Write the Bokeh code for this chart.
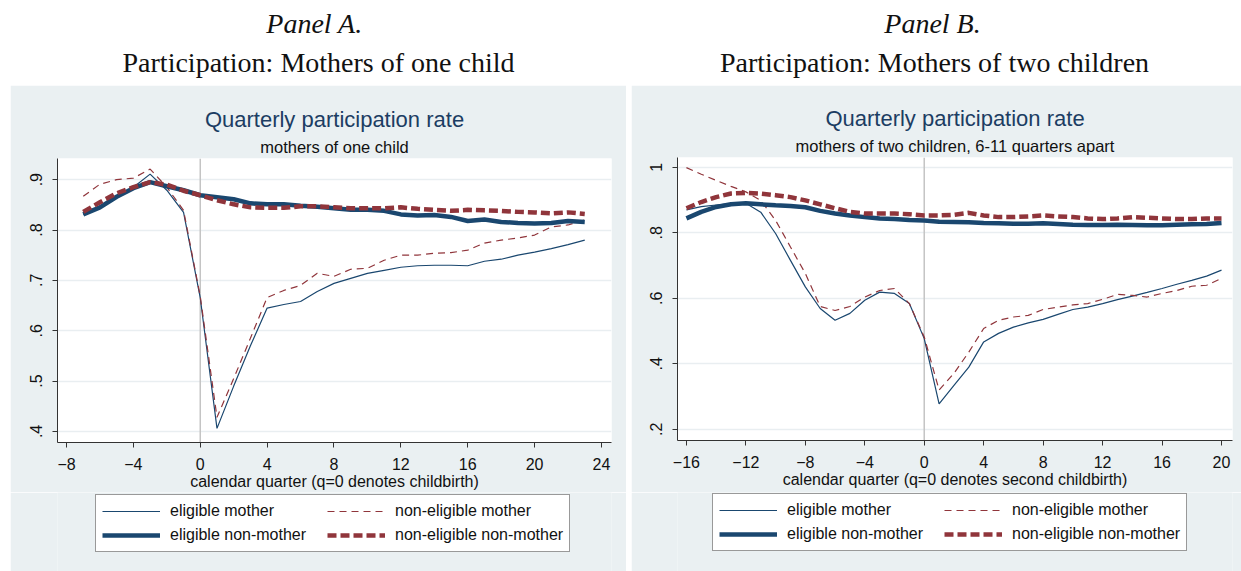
from bokeh.plotting import figure
from bokeh.models import Range1d, FixedTicker, Span, Legend, LegendItem, Title, Spacer
from bokeh.layouts import row, column
from bokeh.core.properties import value
from bokeh.embed import file_html
from bokeh.resources import INLINE

# ---------------- data ----------------
quarters_a = list(range(-7, 24))
a_elig_mother = [.831, .845, .866, .885, .911, .879, .835, .665, .406, .490, .570, .645, .652, .658, .678, .694,
                 .704, .714, .720, .726, .729, .730, .730, .729, .738, .742, .750, .756, .763, .771, .780]
a_nonelig_mother = [.867, .891, .900, .903, .921, .885, .839, .668, .428, .505, .585, .666, .680, .690, .714, .708,
                    .722, .724, .740, .750, .750, .754, .755, .760, .774, .780, .784, .790, .806, .810, .820]
a_elig_nonmother = [.831, .845, .866, .883, .895, .887, .879, .869, .865, .861, .853, .851, .851, .848, .846, .843,
                    .840, .840, .838, .831, .829, .830, .826, .818, .821, .816, .814, .813, .814, .818, .816]
a_nonelig_nonmother = [.836, .855, .873, .885, .895, .890, .878, .869, .859, .851, .845, .844, .844, .847, .847, .845,
                       .843, .843, .843, .845, .842, .840, .838, .840, .839, .838, .836, .835, .833, .835, .832]

quarters_b = list(range(-16, 21))
b_elig_mother = [.870, .880, .885, .889, .890, .863, .798, .716, .635, .569, .533, .554, .594, .619, .615, .584,
                 .477, .278, .334, .390, .467, .493, .512, .525, .536, .551, .566, .573, .584, .596, .607, .618,
                 .630, .643, .655, .668, .686]
b_nonelig_mother = [.999, .979, .960, .942, .925, .899, .838, .757, .676, .575, .563, .575, .604, .624, .630, .584,
                    .482, .320, .371, .436, .508, .533, .543, .548, .566, .573, .580, .584, .597, .612, .609, .604,
                    .615, .624, .637, .640, .661]
b_elig_nonmother = [.844, .864, .879, .887, .890, .887, .884, .882, .878, .867, .859, .853, .848, .844, .842, .839,
                    .838, .834, .833, .832, .830, .829, .828, .828, .829, .827, .825, .824, .824, .825, .824, .823,
                    .823, .825, .826, .827, .830]
b_nonelig_nonmother = [.875, .894, .909, .920, .922, .920, .915, .909, .899, .887, .875, .864, .859, .859, .859, .857,
                       .853, .853, .855, .861, .853, .848, .848, .850, .853, .850, .848, .844, .842, .844, .848, .846,
                       .844, .842, .842, .844, .844]

series_labels = ["eligible mother", "non-eligible mother", "eligible non-mother", "non-eligible non-mother"]

xticks_a = [-8, -4, 0, 4, 8, 12, 16, 20, 24]
yticks_a = [0.4, 0.5, 0.6, 0.7, 0.8, 0.9]
ytick_labels_a = [".4", ".5", ".6", ".7", ".8", ".9"]

xticks_b = [-16, -12, -8, -4, 0, 4, 8, 12, 16, 20]
yticks_b = [0.2, 0.4, 0.6, 0.8, 1.0]
ytick_labels_b = [".2", ".4", ".6", ".8", "1"]

panel_headers = ["Panel A.", "Panel B."]
panel_titles = ["Participation: Mothers of one child", "Participation: Mothers of two children"]
chart_title = "Quarterly participation rate"
subtitles = ["mothers of one child", "mothers of two children, 6-11 quarters apart"]
xlabels = ["calendar quarter (q=0 denotes childbirth)", "calendar quarter (q=0 denotes second childbirth)"]

# ---------------- style ----------------
BG = "#eaf0f2"
NAVY = "#1a476f"
MAROON = "#90353b"
SANS = "Liberation Sans"
SERIF = "Liberation Serif"
STYLES = [dict(line_color=NAVY, line_width=1.2),
          dict(line_color=MAROON, line_width=1.2, line_dash="7 5"),
          dict(line_color=NAVY, line_width=4.5),
          dict(line_color=MAROON, line_width=4.5, line_dash="9 4")]


def make_panel(q, ys, xr, yr, xticks, yticks, ylabels, subtitle, xlabel,
               w, h, bl, br, bt, bb):
    p = figure(width=w, height=h, x_range=Range1d(*xr), y_range=Range1d(*yr),
               output_backend="svg", toolbar_location=None, sizing_mode="fixed",
               min_border_left=bl, min_border_right=br, min_border_top=bt, min_border_bottom=bb)
    p.background_fill_color = "white"
    p.border_fill_color = BG
    p.outline_line_color = None

    p.title.text = chart_title
    p.title.align = "center"
    p.title.text_font = SANS
    p.title.text_font_size = "22px"
    p.title.text_font_style = "normal"
    p.title.text_color = "#1c3d63"
    p.title.standoff = 2
    sub = Title(text=subtitle, align="center", text_font=SANS, text_font_size="16.5px",
                text_font_style="normal", text_color="#111111", standoff=6)
    p.add_layout(sub, "above")

    for ax in (p.xaxis[0], p.yaxis[0]):
        ax.axis_line_color = "#333333"
        ax.major_tick_line_color = "#333333"
        ax.major_tick_out = 5
        ax.major_tick_in = 0
        ax.minor_tick_line_color = None
        ax.major_label_text_font = SANS
        ax.major_label_text_font_size = "16px"
        ax.major_label_text_color = "#111111"
    p.xaxis.ticker = FixedTicker(ticks=xticks)
    p.xaxis.major_label_standoff = 10
    p.xaxis.axis_label = xlabel
    p.xaxis.axis_label_text_font = SANS
    p.xaxis.axis_label_text_font_size = "16px"
    p.xaxis.axis_label_text_font_style = "normal"
    p.xaxis.axis_label_text_color = "#111111"
    p.xaxis.axis_label_standoff = 0
    p.yaxis.ticker = FixedTicker(ticks=yticks)
    p.yaxis.major_label_overrides = {t: l for t, l in zip(yticks, ylabels)}
    p.yaxis.major_label_orientation = "vertical"
    p.yaxis.major_label_standoff = 10

    p.xgrid.visible = False
    p.ygrid.ticker = FixedTicker(ticks=yticks)
    p.ygrid.grid_line_color = "#e9eef1"
    p.ygrid.grid_line_width = 1.5

    p.add_layout(Span(location=0, dimension="height", line_color="#c4c4c4", line_width=1.5, level="underlay"))

    for yv, st in zip(ys, STYLES):
        p.line(q, yv, **st)
    return p


def make_legend_strip(q, ys, w, h, loc):
    # same series drawn into a range that shows none of them: only their legend keys appear
    lf = figure(width=w, height=h, x_range=Range1d(-1000, -999), y_range=Range1d(0, 1),
                output_backend="svg", toolbar_location=None, sizing_mode="fixed",
                min_border=0, min_border_left=0, min_border_right=0, min_border_top=0, min_border_bottom=0,
                x_axis_type=None, y_axis_type=None)
    lf.outline_line_color = None
    lf.grid.visible = False
    lf.background_fill_color = BG
    lf.border_fill_color = BG
    rs = [lf.line(q, yv, **st) for yv, st in zip(ys, STYLES)]
    items = [LegendItem(label=lab, renderers=[r]) for lab, r in zip(series_labels, rs)]
    leg = Legend(items=items, location=loc, orientation="horizontal", ncols=2,
                 border_line_color="#333333", border_line_width=1,
                 background_fill_color="white", background_fill_alpha=1.0,
                 label_text_font=SANS, label_text_font_size="16px", label_text_color="#111111",
                 glyph_width=58, glyph_height=20, label_standoff=10, label_width=153, label_height=20,
                 spacing=4, padding=6, margin=0)
    lf.add_layout(leg, "center")
    return lf


ys_a = [a_elig_mother, a_nonelig_mother, a_elig_nonmother, a_nonelig_nonmother]
ys_b = [b_elig_mother, b_nonelig_mother, b_elig_nonmother, b_nonelig_nonmother]

pA = make_panel(quarters_a, ys_a, (-8.54, 24.6), (0.378, 0.942), xticks_a, yticks_a, ytick_labels_a,
                subtitles[0], xlabels[0], 616, 407, 47, 15, 73, 50)
pB = make_panel(quarters_b, ys_b, (-16.6, 20.74), (0.166, 1.03), xticks_b, yticks_b, ytick_labels_b,
                subtitles[1], xlabels[1], 610, 407, 46, 9, 72, 52)
lA = make_legend_strip(quarters_a, ys_a, 616, 79, (38, 19))
lB = make_legend_strip(quarters_b, ys_b, 610, 79, (35, 20))

# header strip with panel captions
hdr = figure(width=1241, height=85, x_range=Range1d(0, 1241), y_range=Range1d(85, 0),
             output_backend="svg", toolbar_location=None, sizing_mode="fixed",
             min_border=0, min_border_left=0, min_border_right=0, min_border_top=0, min_border_bottom=0,
             x_axis_type=None, y_axis_type=None)
hdr.outline_line_color = None
hdr.grid.visible = False
hdr.background_fill_color = "white"
hdr.border_fill_color = "white"
hdr.text(x=[314, 932], y=[23, 23], text=panel_headers, text_align="center", text_baseline="alphabetic",
         text_font=value(SERIF), text_font_size="28px", text_font_style="italic", text_color="#111111")
hdr.text(x=[318, 934], y=[62, 62], text=panel_titles, text_align="center", text_baseline="alphabetic",
         text_font=value(SERIF), text_font_size="28px", text_color="#111111")

layout = column(hdr,
                row(Spacer(width=10, height=486), column(pA, lA, spacing=0),
                    Spacer(width=5, height=486), column(pB, lB, spacing=0), spacing=0),
                spacing=0)

open("out.html", "w").write(file_html(layout, INLINE))
